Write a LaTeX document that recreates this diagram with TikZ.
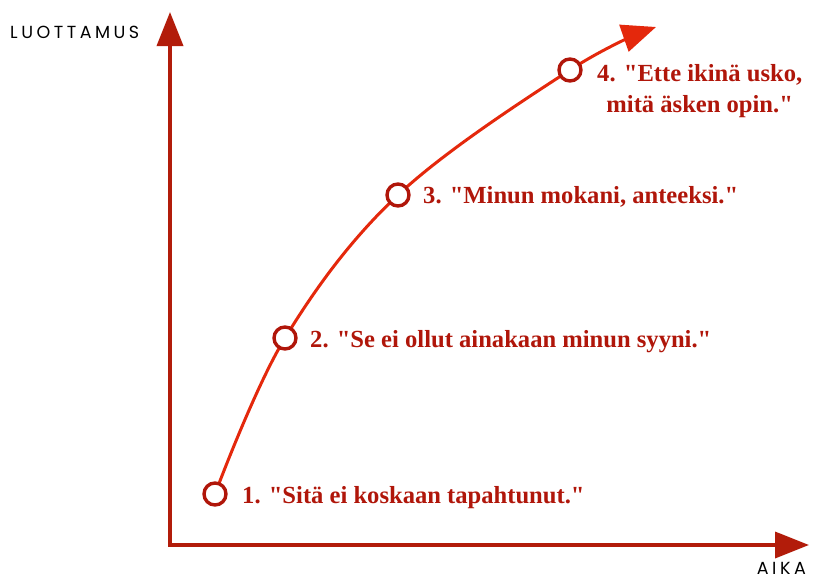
\documentclass[tikz,border=0pt]{standalone}
\usepackage{fontspec}
\setmainfont{Liberation Serif}
\newfontfamily\axisfont[LetterSpace=20]{Poppins}
\usetikzlibrary{arrows.meta,positioning,backgrounds}
\definecolor{axisred}{RGB}{178,28,10}
\definecolor{curvered}{RGB}{228,40,12}
\definecolor{quotered}{RGB}{176,22,10}

\begin{document}
\begin{tikzpicture}[
  x=1pt,y=-1pt,
  line cap=butt,line join=miter,
  axis/.style={draw=axisred,line width=3.6pt,-{Triangle[length=34pt,width=26pt]}},
  trend/.style={draw=curvered,line width=3pt,-{Triangle[length=34pt,width=28pt]}},
  stage/.style={circle,draw=quotered,fill=white,line width=3.4pt,minimum size=22pt,inner sep=0pt},
  quote/.style={font=\fontsize{24.6}{31}\selectfont\bfseries,text=quotered,align=center,inner sep=0pt},
  axislabel/.style={font=\axisfont\fontsize{17.5}{19}\selectfont,text=black,inner sep=0pt}
]
\useasboundingbox (0,0) rectangle (814,579);

% axes
\coordinate (origin) at (170,545);
\coordinate (ytip) at (170,12);
\coordinate (xtip) at (809,545);
\draw[axis] (origin) -- (ytip);
\draw[axis] ([xshift=-1.8pt]origin) -- (xtip);
\node[axislabel,anchor=base west] (ylabel) at (10,38) {LUOTTAMUS};
\node[axislabel,anchor=base east] (xlabel) at (806,574) {AIKA};

% stages along the curve
\node[stage] (p1) at (215,494) {};
\node[stage] (p2) at (285,338) {};
\node[stage] (p3) at (398,195) {};
\node[stage] (p4) at (570,70) {};
\coordinate (ctip) at (656,27);

\begin{scope}[on background layer]
\draw[trend] plot[smooth,tension=.6] coordinates
  {(p1.center) (p2.center) (p3.center) (p4.center) (ctip)};
\end{scope}

% quotes
\node[quote,anchor=base west] (q1) at (242,503)
  {1. \textquotedbl Sitä ei koskaan tapahtunut.\textquotedbl};
\node[quote,anchor=base west] (q2) at (310,347)
  {2. \textquotedbl Se ei ollut ainakaan minun syyni.\textquotedbl};
\node[quote,anchor=base west] (q3) at (423,203)
  {3. \textquotedbl Minun mokani, anteeksi.\textquotedbl};
\node[quote,anchor=base west] (q4) at (597,112)
  {4. \textquotedbl Ette ikinä usko,\\mitä äsken opin.\textquotedbl};
\end{tikzpicture}
\end{document}
